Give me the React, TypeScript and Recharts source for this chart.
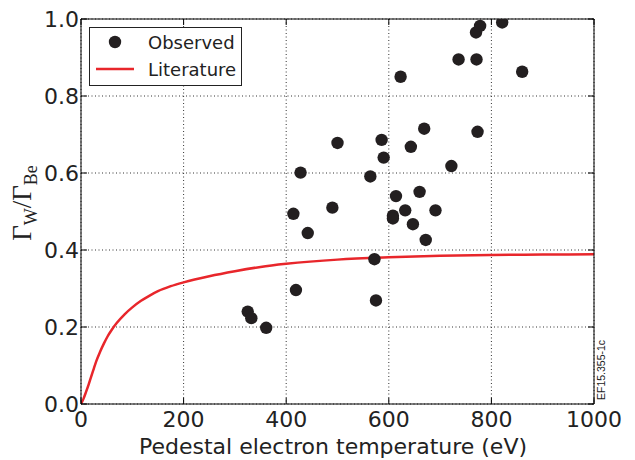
import React from 'react';
import { ComposedChart, Scatter, Line, XAxis, YAxis, CartesianGrid } from 'recharts';

// Observed points: pedestal electron temperature (eV) and ratio
const obsTemp = [325, 332, 361, 419, 414, 428, 442, 490, 500, 564, 572, 575, 586, 590, 608, 608, 614, 623, 632, 643, 647, 660, 669, 672, 691, 722, 736, 771, 770, 778, 773, 821, 860];
const obsRatio = [0.240, 0.223, 0.198, 0.296, 0.494, 0.601, 0.444, 0.510, 0.678, 0.591, 0.376, 0.269, 0.686, 0.640, 0.489, 0.482, 0.540, 0.850, 0.503, 0.668, 0.467, 0.551, 0.715, 0.426, 0.503, 0.618, 0.895, 0.895, 0.965, 0.982, 0.707, 0.991, 0.863];

// Literature curve
const litTemp = [0, 5, 10, 15, 20, 25, 30, 37, 45, 52, 60, 70, 85, 100, 117, 133, 150, 175, 200, 250, 300, 350, 400, 500, 600, 700, 800, 900, 1000];
const litRatio = [0, 0.014, 0.032, 0.051, 0.072, 0.092, 0.112, 0.135, 0.158, 0.176, 0.193, 0.211, 0.233, 0.251, 0.268, 0.281, 0.293, 0.306, 0.316, 0.332, 0.345, 0.356, 0.364, 0.375, 0.381, 0.385, 0.387, 0.388, 0.389];

const xTicks = [0, 200, 400, 600, 800, 1000];
const yTicks = [0, 0.2, 0.4, 0.6, 0.8, 1.0];

const observed = obsTemp.map((t, i) => ({ t, r: obsRatio[i] }));
const literature = litTemp.map((t, i) => ({ t, r: litRatio[i] }));

const FONT = 'DejaVu Sans';
const TXT = '#222';
const DOT = '#231f20';
const RED = '#e8262b';

const BottomTick = (p: any) => (
  <g>
    <line x1={p.x} x2={p.x} y1={p.y} y2={p.y - 6} stroke="#000" strokeWidth={1} />
    <text x={p.x} y={p.y + 23} textAnchor="middle" fontSize={22} fontFamily={FONT} fill={TXT}>
      {String(p.payload.value)}
    </text>
  </g>
);
const LeftTick = (p: any) => (
  <g>
    <line x1={p.x} x2={p.x + 6} y1={p.y} y2={p.y} stroke="#000" strokeWidth={1} />
    <text x={p.x - 2} y={p.y + 8} textAnchor="end" fontSize={22} fontFamily={FONT} fill={TXT}>
      {Number(p.payload.value).toFixed(1)}
    </text>
  </g>
);
const TopTick = (p: any) => (
  <line x1={p.x} x2={p.x} y1={p.y} y2={p.y + 6} stroke="#000" strokeWidth={1} />
);
const RightTick = (p: any) => (
  <line x1={p.x} x2={p.x - 6} y1={p.y} y2={p.y} stroke="#000" strokeWidth={1} />
);

const DotShape = (p: any) => <circle cx={p.cx} cy={p.cy} r={6.2} fill={DOT} />;

const Overlay = () => (
  <svg
    width={635}
    height={460}
    style={{ position: 'absolute', left: 0, top: 0, pointerEvents: 'none' }}
  >
    <g transform="translate(31,203) rotate(-90)">
      <text x={0} y={0} textAnchor="middle" fontSize={27} fontFamily="Liberation Serif" fill={TXT}>
        Γ<tspan fontSize={18} dy={6}>W</tspan>
        <tspan dy={-6}>/Γ</tspan>
        <tspan fontSize={18} dy={6}>Be</tspan>
      </text>
    </g>
    <g transform="translate(605,400) rotate(-90)">
      <text x={0} y={0} fontSize={10.5} fontFamily="Liberation Sans" fill={TXT}>
        EF15.355-1c
      </text>
    </g>
    <text x={333} y={454} textAnchor="middle" fontSize={22} fontFamily={FONT} fill={TXT}>
      Pedestal electron temperature (eV)
    </text>
    <g transform="translate(89,27)">
      <rect x={0.5} y={0.5} width={152} height={58} fill="#fff" stroke="#222" strokeWidth={1} />
      <circle cx={26} cy={15} r={6.2} fill={DOT} />
      <text x={59} y={21.5} fontSize={18} fontFamily={FONT} fill={TXT}>Observed</text>
      <line x1={7} x2={45} y1={42} y2={42} stroke={RED} strokeWidth={2.5} />
      <text x={59} y={48.5} fontSize={18} fontFamily={FONT} fill={TXT}>Literature</text>
    </g>
  </svg>
);

export default function App() {
  return (
    <div style={{ position: 'absolute', left: 0, top: 0, width: 635, height: 460, background: '#fff' }}>
      <ComposedChart width={635} height={460} margin={{ top: 18, right: 40, bottom: 26, left: 21 }}>
        <CartesianGrid
          stroke="#333"
          strokeDasharray="1 2.5"
          strokeWidth={1}
          horizontalValues={yTicks}
          verticalValues={xTicks}
        />
        <XAxis
          dataKey="t"
          type="number"
          domain={[0, 1000]}
          ticks={xTicks}
          allowDataOverflow
          height={30}
          tickSize={0}
          tickMargin={0}
          tickLine={false}
          tick={<BottomTick />}
          axisLine={{ stroke: '#000', strokeWidth: 1 }}
          interval={0}
        />
        <XAxis
          xAxisId="top"
          orientation="top"
          dataKey="t"
          type="number"
          domain={[0, 1000]}
          ticks={xTicks}
          allowDataOverflow
          height={1}
          tickSize={0}
          tickMargin={0}
          tickLine={false}
          tick={<TopTick />}
          axisLine={{ stroke: '#000', strokeWidth: 1 }}
          interval={0}
        />
        <YAxis
          type="number"
          domain={[0, 1]}
          ticks={yTicks}
          allowDataOverflow
          width={60}
          tickSize={0}
          tickMargin={0}
          tickLine={false}
          tick={<LeftTick />}
          axisLine={{ stroke: '#000', strokeWidth: 1 }}
          interval={0}
        />
        <YAxis
          yAxisId="right"
          orientation="right"
          type="number"
          domain={[0, 1]}
          ticks={yTicks}
          allowDataOverflow
          width={1}
          tickSize={0}
          tickMargin={0}
          tickLine={false}
          tick={<RightTick />}
          axisLine={{ stroke: '#000', strokeWidth: 1 }}
          interval={0}
        />
        <Line
          data={literature}
          dataKey="r"
          type="monotone"
          stroke={RED}
          strokeWidth={2.5}
          dot={false}
          activeDot={false}
          isAnimationActive={false}
          name="Literature"
        />
        <Scatter
          data={observed}
          dataKey="r"
          shape={<DotShape />}
          isAnimationActive={false}
          name="Observed"
        />
      </ComposedChart>
      <Overlay />
    </div>
  );
}
